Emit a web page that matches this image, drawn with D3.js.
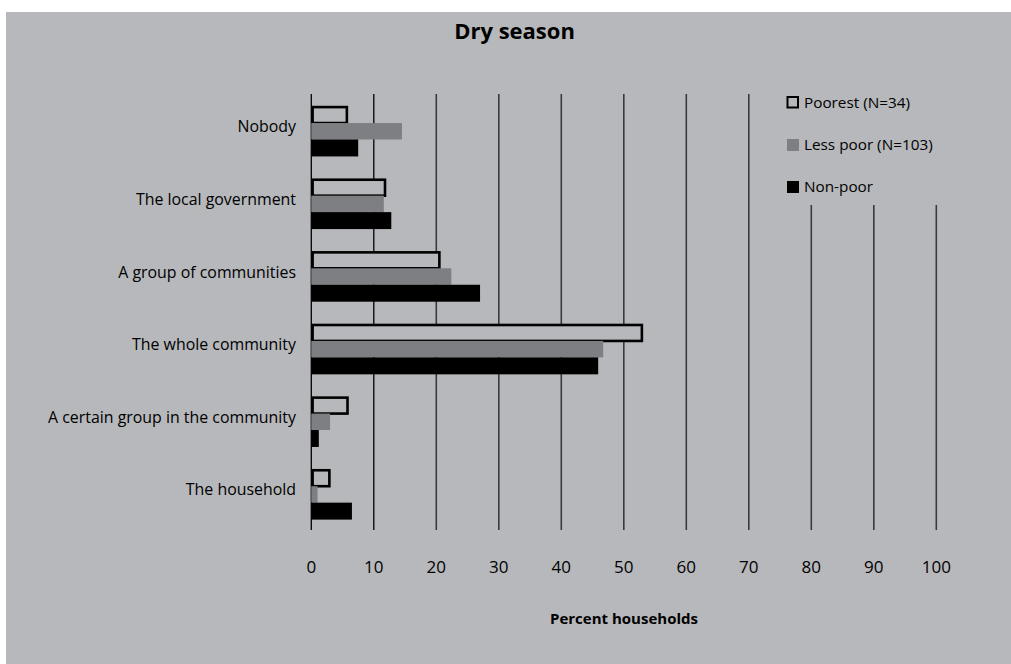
<!DOCTYPE html>
<html>
<head>
<meta charset="utf-8">
<script src="https://cdn.jsdelivr.net/npm/d3@7"></script>
<style>
  html, body { margin: 0; padding: 0; background: #ffffff; }
  svg { display: block; }
  text { font-family: "Open Sans", Lato, sans-serif; fill: #000; }
</style>
</head>
<body>
<script>
const categories = ["Nobody", "The local government", "A group of communities", "The whole community", "A certain group in the community", "The household"];
const seriesNames = ["Poorest (N=34)", "Less poor (N=103)", "Non-poor"];
const poorest  = [5.9, 12.0, 20.7, 53.1, 6.0, 3.1];
const lessPoor = [14.5, 11.6, 22.4, 46.7, 3.0, 1.0];
const nonPoor  = [7.5, 12.8, 27.0, 45.9, 1.2, 6.5];
const xTicks = [0, 10, 20, 30, 40, 50, 60, 70, 80, 90, 100];
const title = "Dry season";
const xTitle = "Percent households";

const W = 1011, H = 664;
const bg = "#b7b8bb";
const seriesData = [poorest, lessPoor, nonPoor];
const fills = [bg, "#7e7f83", "#000000"];

const svg = d3.select("body").append("svg").attr("width", W).attr("height", H);
svg.append("rect").attr("x", 6).attr("y", 12).attr("width", W - 6).attr("height", H - 12).attr("fill", bg);

const x = d3.scaleLinear().domain([0, 100]).range([311.3, 936.3]);
const y = d3.scaleBand().domain(categories).range([94.7, 530.5]).paddingInner(0.3).paddingOuter(0.15);
const ySub = d3.scaleBand().domain(d3.range(3)).range([0, y.bandwidth()]);

// gridlines
const grid = svg.append("g");
xTicks.forEach(t => {
  grid.append("line")
    .attr("x1", x(t)).attr("x2", x(t))
    .attr("y1", t >= 80 ? 205 : 94).attr("y2", 530)
    .attr("stroke", t <= 10 ? "#000" : "#3a3a3a")
    .attr("stroke-width", t <= 10 ? 1.3 : 1.6);
});

// bars
const groups = svg.append("g").selectAll("g").data(categories).join("g")
  .attr("transform", d => `translate(0,${y(d)})`);
groups.each(function(c, ci) {
  const g = d3.select(this);
  seriesData.forEach((arr, si) => {
    const v = arr[ci];
    if (si === 0) {
      g.append("rect")
        .attr("x", x(0) + 1.3).attr("y", ySub(si) + 1.5)
        .attr("width", Math.max(0, x(v) - x(0) - 2.6)).attr("height", ySub.bandwidth() - 1)
        .attr("fill", fills[si]).attr("stroke", "#000").attr("stroke-width", 2.6);
    } else {
      g.append("rect")
        .attr("x", x(0)).attr("y", ySub(si) + (si === 1 ? 0.5 : 0))
        .attr("width", x(v) - x(0)).attr("height", ySub.bandwidth() + (si === 1 ? -0.5 : 0))
        .attr("fill", fills[si]);
    }
  });
});

// y labels
svg.append("g").selectAll("text").data(categories).join("text")
  .attr("x", 296).attr("y", d => y(d) + y.bandwidth() / 2 - 3)
  .attr("text-anchor", "end").attr("dominant-baseline", "middle")
  .style("font-size", "15.9px")
  .text(d => d);

// x tick labels
svg.append("g").selectAll("text").data(xTicks).join("text")
  .attr("x", d => x(d)).attr("y", 568)
  .attr("text-anchor", "middle").attr("dominant-baseline", "middle")
  .style("font-size", "17px")
  .text(d => d);

// axis title
svg.append("text").attr("x", 624).attr("y", 620)
  .attr("text-anchor", "middle").attr("dominant-baseline", "middle")
  .style("font-size", "15px").style("font-weight", "bold")
  .text(xTitle);

// chart title
svg.append("text").attr("x", 514.5).attr("y", 33)
  .attr("text-anchor", "middle").attr("dominant-baseline", "middle")
  .style("font-size", "22px").style("font-weight", "bold")
  .text(title);

// legend
const leg = svg.append("g");
leg.append("rect").attr("x", 776).attr("y", 94).attr("width", 158).attr("height", 110).attr("fill", bg);
seriesNames.forEach((name, i) => {
  const cy = 102.5 + i * 42;
  leg.append("rect")
    .attr("x", i === 0 ? 787.5 : 787).attr("y", cy - 5.5)
    .attr("width", i === 0 ? 10.5 : 12).attr("height", i === 0 ? 10.5 : 12)
    .attr("fill", fills[i])
    .attr("stroke", i === 0 ? "#000" : "none").attr("stroke-width", 2);
  leg.append("text").attr("x", 804).attr("y", cy + 1)
    .attr("dominant-baseline", "middle")
    .style("font-size", "15.3px")
    .text(name);
});
</script>
</body>
</html>
